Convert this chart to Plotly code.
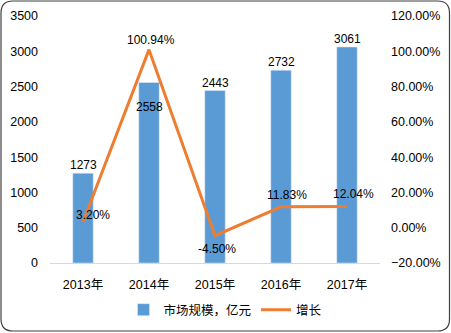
import plotly.graph_objects as go

categories = ["2013年", "2014年", "2015年", "2016年", "2017年"]
market_size = [1273, 2558, 2443, 2732, 3061]
growth = [0.0320, 1.0094, -0.0450, 0.1183, 0.1204]
bar_name = "市场规模，亿元"
line_name = "增长"

BLUE = "#5B9BD5"
ORANGE = "#ED7D31"
FONT = "Liberation Sans, Noto Sans CJK SC, sans-serif"

fig = go.Figure()
fig.add_trace(go.Bar(x=categories, y=market_size, name=bar_name, marker_color=BLUE,
                     width=0.31, yaxis="y"))
fig.add_trace(go.Scatter(x=categories, y=growth, name=line_name, mode="lines",
                         line=dict(color=ORANGE, width=3), yaxis="y2"))

# bar labels
bar_shift = [8, -25, 8, 8, 8]
for c, v, s in zip(categories, market_size, bar_shift):
    fig.add_annotation(x=c, y=v, xref="x", yref="y", text=str(v), showarrow=False,
                       yanchor="middle", yshift=s, font=dict(size=12, color="black", family=FONT))

# line labels
line_shift = [(10, 7), (2, 10), (2, -13), (6, 12), (6, 12)]
for c, v, (dx, dy) in zip(categories, growth, line_shift):
    fig.add_annotation(x=c, y=v, xref="x", yref="y2", text=f"{v*100:.2f}%", showarrow=False,
                       yanchor="middle", xshift=dx, yshift=dy,
                       font=dict(size=12, color="black", family=FONT))

# rounded border
L, R, T, B = 50, 380, 16, 263
def px(x):
    return (x - L) / (R - L)
def py(y):
    return (B - y) / (B - T)
x0, x1, y0, y1, r = 1, 449.5, 1, 331, 12
path = (f"M {px(x0+r)},{py(y0)} L {px(x1-r)},{py(y0)} Q {px(x1)},{py(y0)} {px(x1)},{py(y0+r)} "
        f"L {px(x1)},{py(y1-r)} Q {px(x1)},{py(y1)} {px(x1-r)},{py(y1)} "
        f"L {px(x0+r)},{py(y1)} Q {px(x0)},{py(y1)} {px(x0)},{py(y1-r)} "
        f"L {px(x0)},{py(y0+r)} Q {px(x0)},{py(y0)} {px(x0+r)},{py(y0)} Z")
fig.add_shape(type="path", path=path, xref="paper", yref="paper",
              line=dict(color="#404040", width=1.2), layer="above")

fig.update_layout(
    width=451, height=333,
    margin=dict(l=L, r=451 - R, t=T, b=333 - B, autoexpand=False),
    paper_bgcolor="white", plot_bgcolor="white",
    font=dict(family=FONT, size=12, color="black"),
    xaxis=dict(showgrid=False, showline=True, linecolor="#D9D9D9", linewidth=1,
               ticks="", tickfont=dict(size=12.5), ticklabelstandoff=10, automargin=False),
    yaxis=dict(range=[0, 3500], dtick=500, showgrid=False, zeroline=False, showline=False,
               ticks="", tickfont=dict(size=12.5), ticklabelstandoff=11, automargin=False),
    yaxis2=dict(range=[-0.2, 1.2], dtick=0.2, tickformat=".2%", overlaying="y", side="right",
                showgrid=False, zeroline=False, showline=False, ticks="",
                tickfont=dict(size=12.5), ticklabelstandoff=10, automargin=False),
    legend=dict(orientation="h", xref="container", yref="container", x=0.5, y=0.069,
                xanchor="center", yanchor="middle", font=dict(size=12.5)),
    showlegend=True,
)

fig.write_html("out.html")
